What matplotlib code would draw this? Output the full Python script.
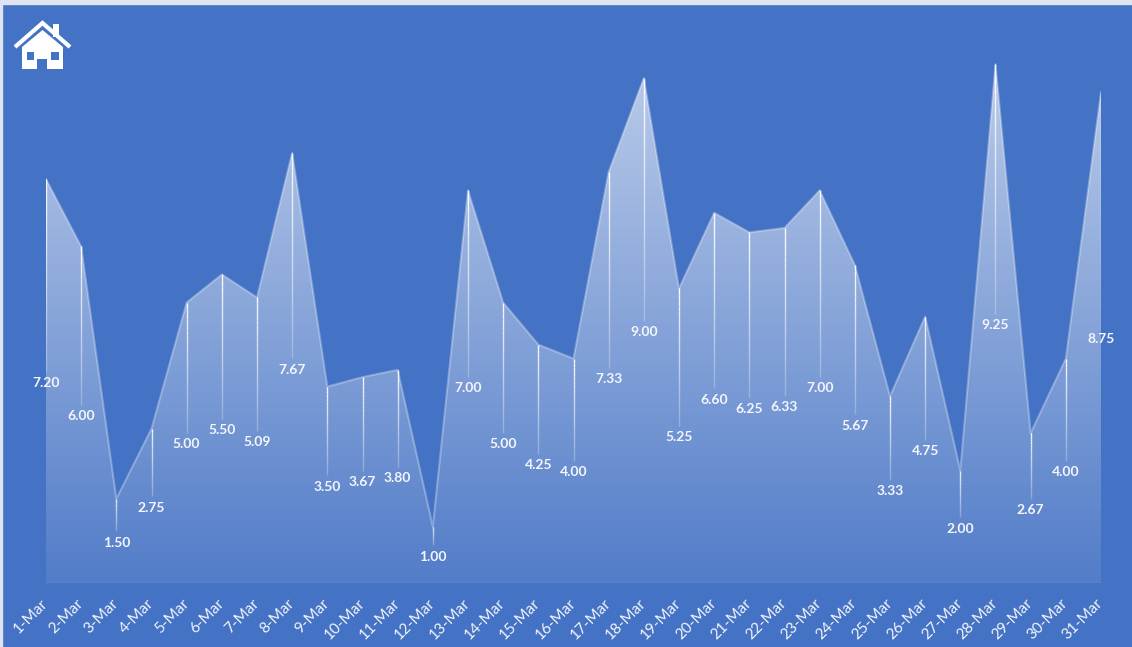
import matplotlib.pyplot as plt
import numpy as np
from matplotlib.collections import LineCollection
from matplotlib.patches import Polygon, Rectangle

days = [f'{d}-Mar' for d in range(1, 32)]
values = [7.20, 6.00, 1.50, 2.75, 5.00, 5.50, 5.09, 7.67, 3.50, 3.67, 3.80, 1.00,
          7.00, 5.00, 4.25, 4.00, 7.33, 9.00, 5.25, 6.60, 6.25, 6.33, 7.00, 5.67,
          3.33, 4.75, 2.00, 9.25, 2.67, 4.00, 8.75]

BG = '#4472C4'
W, H = 1132, 647
plt.rcParams['font.family'] = ['Lato', 'DejaVu Sans']

fig = plt.figure(figsize=(W / 100, H / 100), dpi=100, facecolor=BG)
ax = fig.add_axes([46 / W, (H - 583) / H, 1055 / W, 561 / H])
ax.set_facecolor(BG)

x = np.arange(len(values))
v = np.array(values)
ax.set_xlim(0, len(values) - 1)
ax.set_ylim(0, 10)

# area with a white gradient, stronger at the top
verts = np.column_stack([np.r_[x[0], x, x[-1]], np.r_[0, v, 0]])
area = Polygon(verts, closed=True, facecolor='none', edgecolor='none')
ax.add_patch(area)
grad = np.ones((256, 1, 4))
grad[:, 0, 3] = np.linspace(0.68, 0.08, 256)
img = ax.imshow(grad, extent=(0, len(values) - 1, 0, 10), aspect='auto',
                origin='upper', interpolation='bilinear', zorder=1)
img.set_clip_path(area)
ax.plot(x, v, color='white', alpha=0.3, lw=1.5, zorder=2)

# drop lines from each point to its label, fading downward
segs, cols = [], []
for xi, vi in zip(x, v):
    ys = np.linspace(vi, vi / 2 + 0.17, 25)
    for k in range(len(ys) - 1):
        segs.append([(xi, ys[k]), (xi, ys[k + 1])])
        cols.append((1, 1, 1, 0.95 - 0.7 * k / (len(ys) - 2)))
ax.add_collection(LineCollection(segs, colors=cols, linewidths=1, zorder=3))

for xi, vi in zip(x, v):
    ax.text(xi, vi / 2 - 0.03, f'{vi:.2f}', ha='center', va='center',
            color='#f4f6fb', fontsize=10, fontweight='bold', zorder=4)

ax.axhline(0, color='#7597d6', lw=1, zorder=2)
for s in ax.spines.values():
    s.set_visible(False)
ax.set_yticks([])
ax.set_xticks(x)
ax.set_xticklabels(days, rotation=45, ha='right', va='center',
                   rotation_mode='anchor', fontsize=11, color='#f4f6fb')
ax.tick_params(axis='x', length=0, pad=13)

# screenshot border strips
fig.patches.append(Rectangle((0, 1 - 4 / H), 1, 4 / H, transform=fig.transFigure,
                             color='#dfe4f1', zorder=10))
fig.patches.append(Rectangle((0, 0), 2 / W, 1, transform=fig.transFigure,
                             color='#dfe4f1', zorder=10))

# house icon
ov = fig.add_axes([0, 0, 1, 1], zorder=5)
ov.set_xlim(0, W)
ov.set_ylim(H, 0)
ov.axis('off')
ov.plot([15, 42.5, 70], [47, 23, 47], color='white', lw=3,
        solid_capstyle='butt', solid_joinstyle='miter')
ov.add_patch(Rectangle((53, 24), 6, 13, color='white', lw=0))
ov.add_patch(Polygon([(22, 69), (22, 47), (42.5, 30), (63, 47), (63, 69)],
                     closed=True, color='white', lw=0))
ov.add_patch(Rectangle((27, 52), 7, 8, color=BG, lw=0))
ov.add_patch(Rectangle((51, 52), 8, 8, color=BG, lw=0))
ov.add_patch(Rectangle((37, 59), 10, 10, color=BG, lw=0))

fig.savefig('out.png', dpi=100, facecolor=BG)
